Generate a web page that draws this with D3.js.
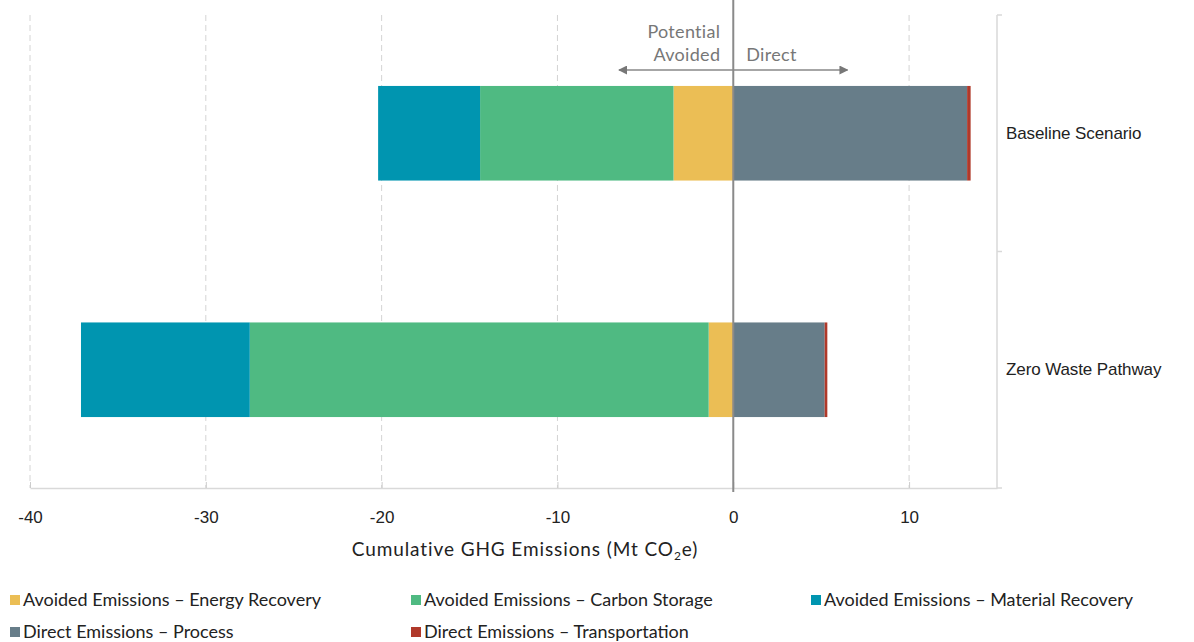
<!DOCTYPE html>
<html>
<head>
<meta charset="utf-8">
<script src="https://cdn.jsdelivr.net/npm/d3@7"></script>
<style>
  body { margin: 0; background: #fff; }
  svg { font-family: Lato, "Noto Sans", sans-serif; }
</style>
</head>
<body>
<svg id="chart" width="1194" height="642"></svg>
<script>
// Scenarios and emission components (Mt CO2e); avoided emissions are negative
const scenarios = ["Baseline Scenario", "Zero Waste Pathway"];
const seriesNames = [
  "Avoided Emissions – Energy Recovery",
  "Avoided Emissions – Carbon Storage",
  "Avoided Emissions – Material Recovery",
  "Direct Emissions – Process",
  "Direct Emissions – Transportation"
];
const energyRecovery   = [-3.4, -1.4];
const carbonStorage    = [-11.0, -26.1];
const materialRecovery = [-5.8, -9.6];
const process          = [13.3, 5.2];
const transportation   = [0.2, 0.15];
const seriesColors = ["#EBBE55", "#4FBA82", "#0095B0", "#677D89", "#B0392A"];
const xTicks = [-40, -30, -20, -10, 0, 10];

const seriesValues = [energyRecovery, carbonStorage, materialRecovery, process, transportation];

const svg = d3.select("#chart");
const margin = { left: 30, right: 197, top: 15, bottom: 154 };
const W = 1194, H = 642;

const x = d3.scaleLinear().domain([-40, 15]).range([margin.left, W - margin.right]);
const y = d3.scaleBand().domain(scenarios).range([margin.top, H - margin.bottom]).paddingInner(0.6).paddingOuter(0.3);

// dashed vertical gridlines
svg.append("g").selectAll("line").data(xTicks.filter(t => t !== 0)).join("line")
  .attr("x1", d => x(d)).attr("x2", d => x(d))
  .attr("y1", margin.top).attr("y2", H - margin.bottom)
  .attr("stroke", "#d4d4d4").attr("stroke-dasharray", "6,4").attr("stroke-width", 1);

// stacked bars: negatives stacked leftwards from zero, positives rightwards
const rows = scenarios.map((s, i) => {
  let neg = 0, pos = 0;
  return seriesValues.map((vals, k) => {
    const v = vals[i];
    let x0, x1;
    if (v < 0) { x0 = neg + v; x1 = neg; neg += v; }
    else { x0 = pos; x1 = pos + v; pos += v; }
    return { scenario: s, k, x0, x1 };
  });
}).flat();

svg.append("g").selectAll("rect").data(rows).join("rect")
  .attr("x", d => x(d.x0))
  .attr("width", d => x(d.x1) - x(d.x0))
  .attr("y", d => y(d.scenario))
  .attr("height", y.bandwidth())
  .attr("fill", d => seriesColors[d.k]);

// bottom axis
const xAxis = svg.append("g").attr("transform", `translate(0,${H - margin.bottom})`)
  .call(d3.axisBottom(x).tickValues(xTicks).tickFormat(d => String(d)).tickSize(0).tickPadding(23));
xAxis.select(".domain").attr("stroke", "#d9d9d9").attr("stroke-width", 1.5);
xAxis.selectAll(".tick text").attr("font-size", 17).attr("fill", "#222");
xAxis.selectAll(".tick").append("line").attr("y1", -6).attr("y2", 0).attr("stroke", "#ccc");

// right category axis
const yAxis = svg.append("g").attr("transform", `translate(${W - margin.right},0)`)
  .call(d3.axisRight(y).tickSize(0).tickPadding(9));
yAxis.select(".domain").remove();
yAxis.selectAll(".tick text").attr("font-size", 17).attr("fill", "#222").attr("letter-spacing", -0.1);
const yAxisLine = svg.append("g");
yAxisLine.append("line")
  .attr("x1", W - margin.right).attr("x2", W - margin.right)
  .attr("y1", margin.top).attr("y2", H - margin.bottom)
  .attr("stroke", "#d9d9d9").attr("stroke-width", 1.5);
yAxisLine.selectAll(".sep").data([margin.top, (margin.top + H - margin.bottom) / 2, H - margin.bottom]).join("line")
  .attr("x1", W - margin.right).attr("x2", W - margin.right + 5)
  .attr("y1", d => d).attr("y2", d => d)
  .attr("stroke", "#d9d9d9").attr("stroke-width", 1.5);

// zero line
svg.append("line")
  .attr("x1", x(0)).attr("x2", x(0))
  .attr("y1", 0).attr("y2", H - margin.bottom + 4)
  .attr("stroke", "#8a8a8a").attr("stroke-width", 2);

// axis title
const title = svg.append("text")
  .attr("x", 525).attr("y", 556).attr("text-anchor", "middle")
  .attr("font-size", 19).attr("fill", "#222").attr("letter-spacing", 0.9);
title.append("tspan").text("Cumulative GHG Emissions (Mt CO");
title.append("tspan").text("2").attr("font-size", 12).attr("dy", 4);
title.append("tspan").text("e)").attr("dy", -4);

// direction annotation
const ann = svg.append("g").attr("fill", "#777").attr("font-size", 18).attr("letter-spacing", 0.3);
ann.append("text").attr("x", x(0) - 13).attr("y", 38).attr("text-anchor", "end").text("Potential");
ann.append("text").attr("x", x(0) - 13).attr("y", 61).attr("text-anchor", "end").text("Avoided");
ann.append("text").attr("x", x(0) + 13).attr("y", 61).attr("text-anchor", "start").text("Direct");
const defs = svg.append("defs");
defs.append("marker").attr("id", "arr").attr("viewBox", "0 0 10 10")
  .attr("refX", 9).attr("refY", 5).attr("markerWidth", 9).attr("markerHeight", 9)
  .attr("markerUnits", "userSpaceOnUse").attr("orient", "auto-start-reverse")
  .append("path").attr("d", "M0,0 L10,5 L0,10 Z").attr("fill", "#777");
svg.append("line")
  .attr("x1", x(-6.5)).attr("x2", x(6.5)).attr("y1", 70).attr("y2", 70)
  .attr("stroke", "#888").attr("stroke-width", 1.5)
  .attr("marker-start", "url(#arr)").attr("marker-end", "url(#arr)");

// legend
const legendPos = [[10, 600], [411, 600], [811, 600], [10, 632], [411, 632]];
const leg = svg.append("g").selectAll("g").data(seriesNames).join("g")
  .attr("transform", (d, i) => `translate(${legendPos[i][0]},${legendPos[i][1]})`);
leg.append("rect").attr("x", 0).attr("y", -5).attr("width", 10).attr("height", 10)
  .attr("fill", (d, i) => seriesColors[i]);
leg.append("text").attr("x", 13).attr("y", 6).attr("font-size", 18).attr("fill", "#222").text(d => d);
</script>
</body>
</html>
